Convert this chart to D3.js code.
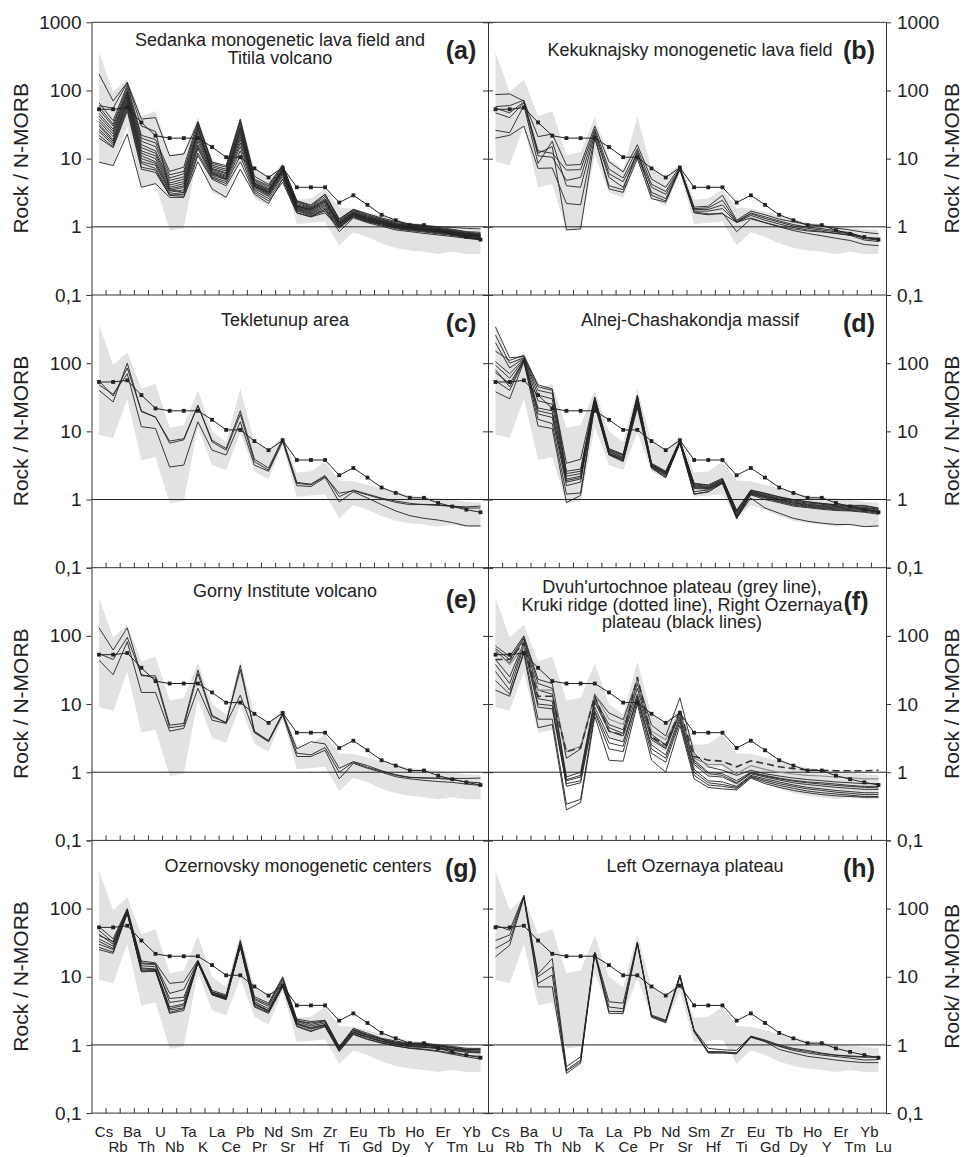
<!DOCTYPE html>
<html>
<head>
<meta charset="utf-8">
<script src="https://cdn.jsdelivr.net/npm/d3@7"></script>
<style>
  body { margin: 0; background: #fff; }
  text { font-family: "Liberation Sans", Arial, sans-serif; }
</style>
</head>
<body>
<div id="chart"></div>
<script>
const elements = ["Cs","Rb","Ba","Th","U","Nb","Ta","K","La","Ce","Pb","Pr","Nd","Sr",
                  "Sm","Hf","Zr","Ti","Eu","Gd","Tb","Dy","Ho","Y","Er","Tm","Yb","Lu"];
const yTicks = [0.1, 1, 10, 100, 1000];

// grey field, same in every panel
const bandUpper = [360, 95, 145, 42, 50, 11.3, 12.4, 40, 10, 7, 42, 7, 5.3, 8.5,
                   2.5, 2.6, 3.6, 1.9, 1.85, 1.65, 1.45, 1.3, 1.15, 1.1, 1.04, 0.98, 0.93, 0.9];
const bandLower = [9, 8, 30, 3.8, 4.2, 0.88, 0.95, 11.5, 3.2, 2.7, 9.5, 2.6, 2.0, 6.2,
                   1.1, 1.15, 1.2, 0.53, 0.83, 0.71, 0.57, 0.49, 0.45, 0.43, 0.4, 0.43, 0.4, 0.4];

// reference curve with dots
const refLine = [53, 53, 56, 34, 21.7, 20, 20, 20, 14.8, 10.5, 10.5, 7.2, 5.3, 7.4,
                 3.8, 3.8, 3.8, 2.27, 2.9, 2.1, 1.5, 1.25, 1.06, 1.06, 0.89, 0.79, 0.71, 0.65];

const sedanka = [
  [66, 36, 120, 22, 19, 6.5, 7.5, 35, 8.5, 7.5, 36, 5, 4, 7.8, 2.4, 2.0, 3.0, 1.3, 1.8, 1.5, 1.3, 1.15, 1.08, 1.03, 0.98, 0.92, 0.85, 0.83],
  [58, 32, 110, 20, 17, 5.8, 6.5, 32, 8, 7, 33, 4.8, 3.8, 7.5, 2.3, 1.95, 2.8, 1.25, 1.75, 1.45, 1.28, 1.12, 1.05, 1.0, 0.95, 0.9, 0.83, 0.8],
  [52, 30, 100, 18, 15, 5.2, 6, 28, 7.6, 6.6, 30, 4.6, 3.6, 7.2, 2.2, 1.9, 2.6, 1.2, 1.7, 1.42, 1.25, 1.1, 1.03, 0.98, 0.93, 0.88, 0.81, 0.78],
  [46, 27, 95, 16, 13, 4.8, 5.4, 26, 7.2, 6.2, 27, 4.4, 3.5, 7, 2.1, 1.85, 2.5, 1.18, 1.65, 1.38, 1.22, 1.08, 1.01, 0.96, 0.91, 0.86, 0.79, 0.76],
  [42, 25, 90, 14.5, 12, 4.4, 5, 24, 7, 6, 25, 4.3, 3.4, 6.8, 2.05, 1.8, 2.4, 1.15, 1.6, 1.35, 1.2, 1.06, 0.99, 0.94, 0.9, 0.85, 0.78, 0.75],
  [38, 23, 85, 13, 11, 4.1, 4.6, 22, 6.7, 5.7, 23, 4.2, 3.3, 6.6, 2.0, 1.75, 2.3, 1.12, 1.57, 1.33, 1.18, 1.05, 0.98, 0.93, 0.88, 0.84, 0.77, 0.74],
  [35, 21, 80, 12, 10, 3.8, 4.3, 20, 6.4, 5.5, 21, 4.1, 3.2, 6.4, 1.95, 1.7, 2.2, 1.1, 1.55, 1.3, 1.16, 1.03, 0.97, 0.92, 0.87, 0.83, 0.76, 0.73],
  [32, 19, 75, 11, 9, 3.6, 4, 18, 6.2, 5.3, 19, 4, 3.1, 6.2, 1.9, 1.65, 2.1, 1.08, 1.52, 1.28, 1.15, 1.02, 0.96, 0.91, 0.86, 0.82, 0.75, 0.72],
  [30, 18, 70, 10, 8.5, 3.4, 3.8, 16, 6, 5.1, 17, 3.9, 3.0, 6, 1.85, 1.6, 2.0, 1.05, 1.5, 1.26, 1.13, 1.0, 0.94, 0.9, 0.85, 0.8, 0.74, 0.71],
  [27, 17, 65, 9, 8, 3.2, 3.5, 15, 5.7, 4.9, 15, 3.8, 2.9, 5.7, 1.8, 1.55, 1.9, 1.02, 1.47, 1.24, 1.11, 0.99, 0.93, 0.89, 0.84, 0.79, 0.73, 0.7],
  [25, 16, 60, 8.5, 7.2, 3.0, 3.2, 14, 5.4, 4.6, 13, 3.6, 2.8, 5.4, 1.75, 1.5, 1.8, 1.0, 1.45, 1.22, 1.1, 0.98, 0.92, 0.88, 0.83, 0.78, 0.72, 0.69],
  [22, 15, 55, 7.5, 6.8, 2.9, 3.0, 12, 5.2, 4.3, 11, 3.4, 2.6, 5, 1.7, 1.45, 1.7, 0.98, 1.42, 1.2, 1.08, 0.96, 0.9, 0.86, 0.81, 0.77, 0.7, 0.67],
  [20, 14.5, 50, 7, 6.3, 2.9, 2.8, 11, 5, 4, 9, 3.2, 2.4, 4.5, 1.6, 1.4, 1.6, 0.95, 1.4, 1.18, 1.06, 0.94, 0.88, 0.84, 0.79, 0.75, 0.69, 0.66],
  [174, 70, 131, 38, 40, 11, 11.7, 34, 8.9, 7.9, 38, 5.5, 4.2, 8, 2.4, 2.1, 3.0, 1.3, 1.8, 1.55, 1.35, 1.2, 1.1, 1.05, 1.0, 0.98, 0.95, 0.93],
  [8.9, 7.9, 23, 3.8, 4.3, 2.7, 2.7, 9, 3.6, 2.7, 7, 3, 2.2, 5, 1.6, 1.4, 1.8, 0.85, 1.35, 1.15, 1.02, 0.9, 0.85, 0.8, 0.76, 0.72, 0.68, 0.64],
  [60, 55, 130, 30, 25, 3.5, 3.2, 30, 6, 5, 28, 4, 3.2, 7, 2.0, 1.8, 2.4, 1.1, 1.6, 1.35, 1.2, 1.05, 1.0, 0.95, 0.9, 0.85, 0.8, 0.76]
];

const kekuknajsky = [
  [87, 89, 70, 21, 23, 8, 8.2, 30, 9, 6.4, 16, 5, 3.8, 7.6, 1.95, 2.0, 2.9, 1.25, 1.7, 1.5, 1.3, 1.18, 1.08, 1.02, 0.96, 0.9, 0.83, 0.79],
  [55, 47, 68, 13, 12, 6.8, 6.9, 27, 7, 5.2, 14, 4.2, 3.3, 7.3, 1.85, 1.9, 2.45, 1.2, 1.6, 1.4, 1.22, 1.08, 0.99, 0.94, 0.88, 0.82, 0.7, 0.66],
  [47, 40, 66, 11, 10.5, 4.8, 5.3, 25, 6, 4.6, 12, 3.8, 3.0, 7, 1.8, 1.8, 2.1, 1.18, 1.55, 1.33, 1.17, 1.03, 0.95, 0.9, 0.84, 0.79, 0.67, 0.64],
  [26, 24, 60, 8.5, 18, 4.0, 3.8, 23, 5.3, 3.8, 11, 3.2, 2.6, 6.9, 1.7, 1.7, 1.85, 1.16, 1.47, 1.25, 1.1, 0.98, 0.9, 0.86, 0.8, 0.75, 0.64, 0.61],
  [20, 22, 30, 7.2, 7.3, 2.2, 2.1, 21, 3.6, 3.2, 10, 2.6, 2.3, 7.0, 1.65, 1.55, 1.55, 1.16, 1.35, 1.15, 1.0, 0.88, 0.8, 0.74, 0.68, 0.63, 0.55, 0.53],
  [58, 60, 72, 12, 15, 0.9, 0.93, 20, 4, 3.5, 13, 2.9, 2.4, 7.4, 1.6, 1.5, 1.6, 0.85, 1.31, 1.15, 1.02, 0.93, 0.87, 0.84, 0.8, 0.76, 0.7, 0.68]
];

const tekletunup = [
  [40, 27, 100, 19.4, 16.3, 6.7, 7.5, 24, 7, 5.3, 17.7, 3.6, 2.7, 7.5, 1.73, 1.64, 2.17, 1.24, 1.34, 1.17, 1.02, 0.91, 0.84, 0.85, 0.84, 0.79, 0.75, 0.75],
  [48, 35, 70, 11.7, 11, 3.0, 3.2, 13.8, 5.3, 4.5, 13.8, 3.2, 2.6, 7.1, 1.6, 1.55, 2.1, 0.92, 1.3, 1.05, 0.84, 0.68, 0.58, 0.53, 0.5, 0.46, 0.41, 0.41],
  [55, 33, 85, 20, 16, 7.2, 7.8, 24, 7.4, 5.6, 20, 3.9, 2.9, 7.8, 1.78, 1.68, 2.25, 1.1, 1.38, 1.2, 1.05, 0.95, 0.88, 0.84, 0.82, 0.8, 0.78, 0.8]
];

const alnej = [
  [340, 120, 125, 45, 40, 3.4, 3.9, 32, 5.6, 4.6, 33, 3.4, 2.6, 7.4, 1.7, 1.6, 2.0, 0.7, 1.36, 1.22, 1.08, 0.98, 0.92, 0.87, 0.83, 0.81, 0.8, 0.74],
  [257, 100, 120, 40, 36, 2.4, 2.6, 30, 5.3, 4.4, 31, 3.3, 2.5, 7.3, 1.65, 1.55, 1.95, 0.66, 1.32, 1.18, 1.05, 0.95, 0.89, 0.85, 0.81, 0.79, 0.77, 0.72],
  [200, 85, 118, 34, 30, 2.2, 2.4, 29, 5.1, 4.2, 30, 3.2, 2.45, 7.2, 1.6, 1.5, 1.9, 0.63, 1.3, 1.15, 1.02, 0.92, 0.86, 0.82, 0.79, 0.77, 0.75, 0.7],
  [105, 70, 115, 28, 25, 2.0, 2.2, 28, 5.0, 4.1, 28, 3.15, 2.4, 7.1, 1.55, 1.48, 1.85, 0.6, 1.28, 1.12, 1.0, 0.9, 0.84, 0.8, 0.77, 0.75, 0.73, 0.68],
  [93, 60, 112, 22, 20, 1.8, 2.0, 27, 4.8, 4.0, 27, 3.1, 2.35, 7.0, 1.5, 1.45, 1.8, 0.58, 1.25, 1.1, 0.98, 0.88, 0.82, 0.78, 0.75, 0.73, 0.71, 0.67],
  [73, 50, 110, 18, 16, 1.6, 1.8, 26, 4.7, 3.9, 26, 3.05, 2.3, 6.9, 1.45, 1.42, 1.78, 0.56, 1.22, 1.07, 0.95, 0.85, 0.8, 0.76, 0.73, 0.71, 0.69, 0.65],
  [55, 40, 108, 15, 13, 1.2, 1.25, 25, 4.6, 3.8, 24, 3.0, 2.2, 6.8, 1.3, 1.38, 1.75, 0.55, 1.2, 1.05, 0.93, 0.83, 0.78, 0.74, 0.71, 0.69, 0.67, 0.63],
  [38, 30, 105, 12, 11, 0.9, 1.15, 24, 4.5, 3.6, 22, 2.9, 2.1, 6.7, 1.2, 1.3, 1.73, 0.52, 1.17, 1.0, 0.9, 0.8, 0.76, 0.72, 0.69, 0.68, 0.65, 0.61],
  [150, 110, 130, 48, 42, 2.6, 2.8, 31, 5.4, 4.5, 34, 3.3, 2.55, 7.3, 1.73, 1.64, 2.05, 0.68, 1.38, 1.24, 1.1, 1.0, 0.93, 0.88, 0.84, 0.82, 0.82, 0.75],
  [80, 45, 110, 20, 18, 1.9, 2.1, 26, 4.6, 3.7, 25, 2.9, 2.1, 6.7, 1.2, 1.3, 1.75, 0.54, 1.05, 0.75, 0.63, 0.53, 0.48, 0.45, 0.43, 0.43, 0.4, 0.41]
];

const gorny = [
  [131, 62, 131, 26, 26, 4.9, 5.2, 31.5, 6.9, 5.2, 37, 3.9, 2.9, 7.3, 2.2, 2.8, 2.6, 1.14, 1.43, 1.25, 1.05, 0.92, 0.84, 0.82, 0.82, 0.81, 0.81, 0.82],
  [44, 27, 82, 14.8, 14.8, 4.0, 4.4, 17, 5.8, 5.2, 13.5, 3.8, 2.8, 6.9, 1.7, 1.7, 2.1, 0.8, 1.35, 1.14, 1.0, 0.86, 0.8, 0.76, 0.73, 0.71, 0.67, 0.64],
  [55, 45, 95, 27, 24, 4.5, 4.8, 28, 6.5, 5.4, 32, 4.0, 2.9, 7.3, 1.9, 1.8, 2.3, 1.0, 1.4, 1.18, 1.04, 0.9, 0.84, 0.83, 0.81, 0.78, 0.72, 0.7]
];

const rightOzernaya = [
  [71, 50, 100, 23, 20, 1.6, 2.2, 13.7, 7.4, 5.9, 23, 4.9, 3.4, 12.3, 1.9, 1.2, 1.07, 0.9, 1.07, 0.95, 0.88, 0.82, 0.78, 0.75, 0.72, 0.7, 0.68, 0.68],
  [60, 40, 90, 16, 14, 0.85, 1.0, 12, 5, 4.2, 20, 3.6, 2.5, 8, 1.5, 1.0, 0.95, 0.75, 1.0, 0.9, 0.82, 0.76, 0.72, 0.7, 0.67, 0.64, 0.62, 0.62],
  [45, 25, 80, 12, 11, 0.75, 0.85, 10.5, 4, 3.4, 14, 3, 2.2, 7.2, 1.3, 0.88, 0.85, 0.68, 0.95, 0.85, 0.77, 0.7, 0.66, 0.63, 0.6, 0.58, 0.56, 0.56],
  [30, 16, 70, 9, 8.5, 0.68, 0.75, 9, 3.2, 2.8, 12, 2.5, 1.8, 6.5, 1.1, 0.75, 0.72, 0.62, 0.9, 0.8, 0.72, 0.65, 0.6, 0.57, 0.54, 0.52, 0.5, 0.5],
  [16, 13, 60, 6, 6, 0.34, 0.4, 7.5, 2.2, 2, 11, 1.9, 1.4, 5.5, 0.9, 0.65, 0.62, 0.58, 0.85, 0.72, 0.64, 0.58, 0.53, 0.5, 0.48, 0.46, 0.44, 0.44],
  [22, 14, 55, 4.5, 5, 0.28, 0.36, 6.6, 1.5, 1.45, 10, 1.5, 1.0, 4.9, 0.8, 0.6, 0.57, 0.55, 0.82, 0.68, 0.6, 0.54, 0.5, 0.47, 0.45, 0.44, 0.43, 0.43],
  [65, 45, 95, 20, 17, 0.78, 0.9, 11, 4.5, 3.7, 17, 3.2, 2.3, 7.6, 1.4, 0.95, 0.9, 0.7, 0.98, 0.88, 0.8, 0.74, 0.7, 0.67, 0.64, 0.62, 0.6, 0.59],
  [38, 20, 75, 10, 9.5, 0.62, 0.7, 8, 2.7, 2.4, 13, 2.2, 1.6, 6, 1.0, 0.7, 0.66, 0.6, 0.87, 0.76, 0.68, 0.62, 0.57, 0.54, 0.51, 0.49, 0.47, 0.47]
];
const dvuhurtochnoe = [62, 38, 70, 16, 16, 2.0, 2.4, 14, 6, 5, 22, 4, 3, 7.5, 1.6, 1.3, 1.3, 0.95, 1.25, 1.1, 1.0, 0.94, 0.9, 0.88, 0.85, 0.83, 0.8, 0.8];
const kruki = [45, 45, 80, 13, 13, 2.0, 2.3, 13, 4, 3.5, 25, 3.3, 2.5, 8, 1.7, 1.5, 1.45, 1.2, 1.47, 1.34, 1.2, 1.13, 1.08, 1.07, 1.05, 1.05, 1.05, 1.07];

const ozernovsky = [
  [54, 36, 100, 17, 16, 8, 8.4, 17.5, 6.3, 5.4, 34, 5.1, 4.1, 10, 2.4, 2.2, 2.3, 0.95, 1.75, 1.48, 1.25, 1.14, 1.06, 1.06, 1.0, 0.95, 0.89, 0.89],
  [48, 32, 95, 15.5, 15, 5.7, 6.5, 17, 6.0, 5.2, 31, 4.6, 3.7, 9, 2.3, 2.0, 2.2, 0.92, 1.7, 1.42, 1.22, 1.1, 1.03, 1.02, 0.97, 0.92, 0.86, 0.86],
  [42, 30, 92, 14.5, 14, 4.8, 5.0, 16.5, 5.8, 5.0, 30, 4.3, 3.4, 8.3, 2.2, 1.9, 2.1, 0.9, 1.6, 1.38, 1.2, 1.07, 1.0, 0.99, 0.95, 0.9, 0.84, 0.84],
  [36, 28, 90, 13.5, 13, 3.6, 4.0, 16.5, 5.6, 4.9, 29, 4.1, 3.2, 7.8, 2.1, 1.8, 2.0, 0.88, 1.55, 1.33, 1.15, 1.04, 0.97, 0.95, 0.92, 0.87, 0.82, 0.8],
  [30, 25, 88, 12.5, 12.5, 3.25, 3.5, 16, 5.5, 4.8, 28, 3.9, 3.1, 7.5, 2.0, 1.7, 1.95, 0.85, 1.5, 1.28, 1.12, 1.01, 0.94, 0.92, 0.88, 0.83, 0.78, 0.76],
  [25, 22, 85, 11.8, 12, 2.9, 3.2, 16, 5.4, 4.6, 27.5, 3.6, 2.9, 7.1, 1.9, 1.6, 1.85, 0.8, 1.42, 1.2, 1.06, 0.96, 0.9, 0.87, 0.82, 0.76, 0.7, 0.68],
  [27, 23, 86, 12, 12.3, 3.0, 3.4, 16.2, 5.5, 4.7, 28, 3.7, 3.0, 7.3, 1.85, 1.57, 1.9, 0.82, 1.45, 1.22, 1.08, 0.97, 0.89, 0.85, 0.8, 0.73, 0.67, 0.62],
  [40, 33, 96, 16, 15.5, 4.2, 4.5, 17, 5.9, 5.1, 32, 4.8, 3.9, 9.5, 2.25, 2.1, 2.25, 0.93, 1.65, 1.4, 1.2, 1.08, 1.01, 1.0, 0.96, 0.91, 0.85, 0.85],
  [33, 26, 89, 13, 12.8, 3.4, 3.8, 16.3, 5.6, 4.8, 29, 4.0, 3.15, 7.6, 2.05, 1.75, 1.97, 0.86, 1.52, 1.3, 1.13, 1.02, 0.95, 0.93, 0.9, 0.85, 0.8, 0.78]
];

const leftOzernaya = [
  [57, 48, 157, 11, 18.5, 0.48, 0.67, 23, 4.3, 4.1, 32, 2.75, 2.3, 10.6, 1.66, 0.89, 0.85, 0.83, 1.35, 1.18, 1.0, 0.89, 0.83, 0.76, 0.71, 0.69, 0.67, 0.67],
  [34, 41, 150, 10, 14, 0.43, 0.6, 22.5, 3.6, 3.4, 31.8, 2.66, 2.24, 10.6, 1.62, 0.8, 0.8, 0.76, 1.32, 1.14, 0.95, 0.83, 0.76, 0.71, 0.675, 0.64, 0.6, 0.61],
  [26, 34, 148, 8, 10.6, 0.41, 0.57, 22, 3.1, 3.1, 31.4, 2.6, 2.2, 10.2, 1.57, 0.76, 0.76, 0.74, 1.29, 1.12, 0.86, 0.76, 0.68, 0.64, 0.6, 0.57, 0.55, 0.55],
  [19.6, 29, 145, 7.1, 7.1, 0.38, 0.54, 21.5, 2.9, 2.9, 30, 2.54, 2.12, 10, 1.57, 0.77, 0.77, 0.76, 1.32, 1.14, 0.97, 0.86, 0.8, 0.74, 0.705, 0.675, 0.66, 0.66]
];

const panels = [
  {letter: "(a)", col: 0, row: 0, lines: sedanka, title: ["Sedanka monogenetic lava field and", "Titila volcano"], tx: 280, ty: 23.7},
  {letter: "(b)", col: 1, row: 0, lines: kekuknajsky, title: ["Kekuknajsky monogenetic lava field"], tx: 690, ty: 33.4},
  {letter: "(c)", col: 0, row: 1, lines: tekletunup, title: ["Tekletunup area"], tx: 285, ty: 30.7},
  {letter: "(d)", col: 1, row: 1, lines: alnej, title: ["Alnej-Chashakondja massif"], tx: 690, ty: 30.7},
  {letter: "(e)", col: 0, row: 2, lines: gorny, title: ["Gorny Institute volcano"], tx: 285, ty: 29.3, ly: 40},
  {letter: "(f)", col: 1, row: 2, lines: rightOzernaya, title: ["Dvuh'urtochnoe plateau (grey line),", "Kruki ridge (dotted line), Right Ozernaya", "plateau (black lines)"], tx: 682, ty: 25.3, ly: 42, lx: 856},
  {letter: "(g)", col: 0, row: 3, lines: ozernovsky, title: ["Ozernovsky monogenetic centers"], tx: 298, ty: 31.3},
  {letter: "(h)", col: 1, row: 3, lines: leftOzernaya, title: ["Left Ozernaya plateau"], tx: 695, ty: 31.3}
];

const yLabels = [["Rock / N-MORB", "Rock / N-MORB"], ["Rock / N-MORB", "Rock / N-MORB"],
                 ["Rock / N-MORB", "Rock / N-MORB"], ["Rock / N-MORB", "Rock/ N-MORB"]];

const width = 966, height = 1157;
const cols = [{left: 91.5, right: 488}, {left: 488, right: 886}];
const rowTop = [22.3, 295, 567.7, 840.4], rowH = 272.7;
const ink = "#222";

const svg = d3.select("#chart")
  .append("svg")
  .attr("width", width)
  .attr("height", height);

const fmt = (d) => d === 0.1 ? "0,1" : String(d);

panels.forEach(function(p) {
  const c = cols[p.col], top = rowTop[p.row], bottom = top + rowH;

  const x = d3.scalePoint()
    .domain(elements)
    .range([c.left + 7.5, c.right - 7.5]);
  const y = d3.scaleLog()
    .domain([0.1, 1000])
    .range([bottom, top]);

  const g = svg.append("g");

  // grey field
  g.append("path")
    .datum(elements.map((e, i) => ({e: e, lo: bandLower[i], hi: bandUpper[i]})))
    .attr("d", d3.area().x((d) => x(d.e)).y0((d) => y(d.lo)).y1((d) => y(d.hi)))
    .style("fill", "#e2e2e2");

  g.append("line")
    .attr("x1", c.left).attr("x2", c.right)
    .attr("y1", y(1)).attr("y2", y(1))
    .style("stroke", ink).style("stroke-width", 1);

  const line = d3.line()
    .x((d, i) => x(elements[i]))
    .y((d) => y(d));

  g.selectAll(".sample")
    .data(p.lines)
    .enter()
    .append("path")
    .attr("class", "sample")
    .attr("d", line)
    .style("fill", "none")
    .style("stroke", ink)
    .style("stroke-width", 0.9)
    .style("stroke-linejoin", "round");

  if (p.letter === "(f)") {
    g.append("path")
      .attr("d", line(dvuhurtochnoe))
      .style("fill", "none")
      .style("stroke", "#8a8a8a")
      .style("stroke-width", 1.1);
    g.append("path")
      .attr("d", line(kruki))
      .style("fill", "none")
      .style("stroke", "#333")
      .style("stroke-width", 1.6)
      .style("stroke-dasharray", "7,4");
  }

  g.append("path")
    .attr("d", line(refLine))
    .style("fill", "none")
    .style("stroke", ink)
    .style("stroke-width", 1);

  g.selectAll(".dot")
    .data(refLine)
    .enter()
    .append("rect")
    .attr("class", "dot")
    .attr("x", (d, i) => x(elements[i]) - 1.9)
    .attr("y", (d) => y(d) - 1.9)
    .attr("width", 3.8)
    .attr("height", 3.8)
    .style("fill", ink);

  // axes
  const outerAxis = (p.col === 0 ? d3.axisLeft(y) : d3.axisRight(y))
    .tickValues(yTicks)
    .tickSize(5)
    .tickSizeOuter(0)
    .tickPadding(p.col === 0 ? 5 : 6)
    .tickFormat((d) => (d === 1000 && p.row > 0) ? "" : fmt(d));
  const outer = g.append("g")
    .attr("transform", "translate(" + (p.col === 0 ? c.left : c.right) + ",0)")
    .call(outerAxis);
  outer.selectAll("text")
    .style("font-size", "19px")
    .style("font-family", "'Liberation Sans', Arial, sans-serif")
    .style("fill", ink);

  const innerAxis = (p.col === 0 ? d3.axisLeft(y) : d3.axisRight(y))
    .tickValues(yTicks)
    .tickSize(5)
    .tickSizeOuter(0)
    .tickFormat("");
  g.append("g")
    .attr("transform", "translate(" + (p.col === 0 ? c.right : c.left) + ",0)")
    .call(innerAxis);

  g.selectAll(".domain, .tick line").style("stroke", "#333");

  g.append("line")
    .attr("x1", c.left).attr("x2", c.right)
    .attr("y1", bottom).attr("y2", bottom)
    .style("stroke", "#333");
  if (p.row === 0) {
    g.append("line")
      .attr("x1", c.left).attr("x2", c.right)
      .attr("y1", top).attr("y2", top)
      .style("stroke", "#333");
  }

  g.selectAll(".xtick")
    .data(elements.slice(1))
    .enter()
    .append("line")
    .attr("x1", (d, i) => (x(d) + x(elements[i])) / 2)
    .attr("x2", (d, i) => (x(d) + x(elements[i])) / 2)
    .attr("y1", bottom)
    .attr("y2", bottom - 5)
    .style("stroke", "#333");

  // titles
  g.selectAll(".title")
    .data(p.title)
    .enter()
    .append("text")
    .text((d) => d)
    .attr("x", p.tx)
    .attr("y", (d, i) => top + p.ty + i * 17.7)
    .attr("text-anchor", "middle")
    .style("font-size", "18px")
    .style("fill", ink);

  g.append("text")
    .text(p.letter)
    .attr("x", p.lx || (c.right - 27))
    .attr("y", top + (p.ly || 37))
    .attr("text-anchor", "middle")
    .style("font-size", "25px")
    .style("font-weight", "bold")
    .style("fill", ink);

  g.append("text")
    .text(yLabels[p.row][p.col])
    .attr("transform", "translate(" + (p.col === 0 ? 28 : 959) + "," + (top + 136) + ") rotate(-90)")
    .attr("text-anchor", "middle")
    .style("font-size", "21px")
    .style("fill", ink);

  if (p.row === 3) {
    g.selectAll(".elabel")
      .data(elements)
      .enter()
      .append("text")
      .text((d) => d)
      .attr("x", (d) => x(d) + 5)
      .attr("y", (d, i) => i % 2 === 0 ? 1136.7 : 1152.3)
      .attr("text-anchor", "middle")
      .style("font-size", "15px")
      .style("fill", ink);
  }
});
</script>
</body>
</html>
